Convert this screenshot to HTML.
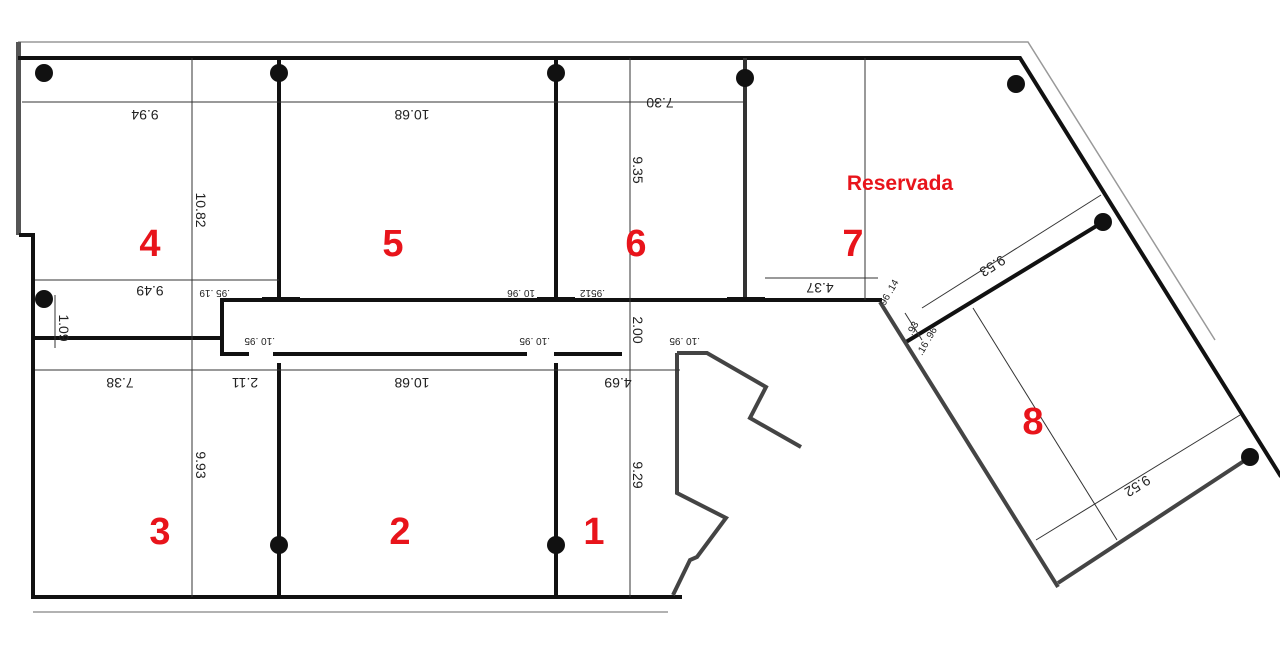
<!DOCTYPE html>
<html><head><style>
html,body{margin:0;padding:0;background:#fff;}
svg{display:block;}
.d{font-family:"Liberation Sans",sans-serif;font-size:14px;fill:#222;}
.s{font-family:"Liberation Sans",sans-serif;font-size:10px;fill:#222;}
.r{font-family:"Liberation Sans",sans-serif;font-weight:bold;fill:#e8141b;}
</style></head><body>
<svg width="1280" height="662" viewBox="0 0 1280 662" xmlns="http://www.w3.org/2000/svg">
<rect width="1280" height="662" fill="#fff"/>
<g stroke="#999" stroke-width="1.5" fill="none">
<polyline points="18,42 1028,42 1215,340"/>
<line x1="33" y1="612" x2="668" y2="612"/>
</g>
<rect x="16" y="42" width="5" height="193" fill="#555"/>
<g stroke="#111" stroke-width="4" fill="none" stroke-linecap="square">
<polyline points="20,58 1020,58 1280,475"/>
<polyline points="21,235 33,235 33,597 680,597"/>
<line x1="33" y1="338" x2="222" y2="338"/>
<polyline points="247,354 222,354 222,300 880,300"/>
<line x1="275" y1="354" x2="525" y2="354"/>
<line x1="556" y1="354" x2="620" y2="354"/>
<line x1="279" y1="58" x2="279" y2="300"/>
<line x1="556" y1="58" x2="556" y2="300"/>
<line x1="279" y1="365" x2="279" y2="597"/>
<line x1="556" y1="365" x2="556" y2="597"/>
<line x1="906" y1="342" x2="1103" y2="222"/>
</g>
<line x1="745" y1="58" x2="745" y2="300" stroke="#333" stroke-width="4"/>
<g stroke="#444" stroke-width="4" fill="none">
<polyline points="880,302 1058,587"/>
<polyline points="1058,583 1250,457"/>
<polyline points="677,353 707,353 766,387 750,418 801,447"/>
<polyline points="677,353 677,493 726,518 697,557 690,560 673,595"/>
</g>
<g fill="#111">
<rect x="262" y="297" width="38" height="5"/><rect x="537" y="297" width="38" height="5"/><rect x="727" y="297" width="38" height="5"/>
</g>
<g fill="#111">
<circle cx="44" cy="73" r="9"/><circle cx="279" cy="73" r="9"/><circle cx="556" cy="73" r="9"/><circle cx="745" cy="78" r="9"/>
<circle cx="1016" cy="84" r="9"/><circle cx="44" cy="299" r="9"/><circle cx="1103" cy="222" r="9"/><circle cx="1250" cy="457" r="9"/>
<circle cx="279" cy="545" r="9"/><circle cx="556" cy="545" r="9"/>
</g>
<g stroke="#333" stroke-width="1" fill="none">
<line x1="22" y1="102" x2="745" y2="102"/>
<line x1="192" y1="58" x2="192" y2="597"/>
<line x1="630" y1="58" x2="630" y2="597"/>
<line x1="865" y1="58" x2="865" y2="300"/>
<line x1="35" y1="280" x2="279" y2="280"/>
<line x1="35" y1="370" x2="680" y2="370"/>
<line x1="765" y1="278" x2="878" y2="278"/>
<line x1="55" y1="295" x2="55" y2="348"/>
<line x1="922" y1="308" x2="1101" y2="195"/>
<line x1="973" y1="308" x2="1117" y2="540"/>
<line x1="1036" y1="540" x2="1240" y2="415"/>
<line x1="905" y1="313" x2="922" y2="340"/>
</g>
<g class="d">
<text transform="translate(145,110) rotate(180)" text-anchor="middle">9.94</text>
<text transform="translate(412,110) rotate(180)" text-anchor="middle">10.68</text>
<text transform="translate(660,98) rotate(180)" text-anchor="middle">7.30</text>
<text transform="translate(150,286) rotate(180)" text-anchor="middle">9.49</text>
<text transform="translate(120,378) rotate(180)" text-anchor="middle">7.38</text>
<text transform="translate(245,378) rotate(180)" text-anchor="middle">2.11</text>
<text transform="translate(412,378) rotate(180)" text-anchor="middle">10.68</text>
<text transform="translate(618,378) rotate(180)" text-anchor="middle">4.69</text>
<text transform="translate(820,283) rotate(180)" text-anchor="middle">4.37</text>
<text transform="translate(196,210) rotate(90)" text-anchor="middle">10.82</text>
<text transform="translate(633,170) rotate(90)" text-anchor="middle">9.35</text>
<text transform="translate(633,330) rotate(90)" text-anchor="middle">2.00</text>
<text transform="translate(196,465) rotate(90)" text-anchor="middle">9.93</text>
<text transform="translate(633,475) rotate(90)" text-anchor="middle">9.29</text>
<text transform="translate(59,328) rotate(90)" text-anchor="middle">1.09</text>
<text transform="translate(990,262) rotate(148)" text-anchor="middle">9.53</text>
<text transform="translate(1135,482) rotate(148)" text-anchor="middle">9.52</text>
</g>
<g class="s">
<text transform="translate(230,290) rotate(180)">.95 .19</text>
<text transform="translate(535,290) rotate(180)">10 .96</text>
<text transform="translate(605,290) rotate(180)">.9512</text>
<text transform="translate(275,338) rotate(180)">.10 .95</text>
<text transform="translate(550,338) rotate(180)">.10 .95</text>
<text transform="translate(700,338) rotate(180)">.10 .95</text>
<text transform="translate(885,306) rotate(-60)">96 .14</text>
<text transform="translate(912,336) rotate(-60)">.93</text>
<text transform="translate(922,356) rotate(-60)">.16 .96</text>
</g>
<g class="r" font-size="38" text-anchor="middle">
<text x="150" y="256">4</text><text x="393" y="256">5</text><text x="636" y="256">6</text><text x="853" y="256">7</text>
<text x="160" y="544">3</text><text x="400" y="544">2</text><text x="594" y="544">1</text><text x="1033" y="434">8</text>
</g>
<text class="r" x="900" y="190" font-size="21" text-anchor="middle">Reservada</text>
</svg>
</body></html>
